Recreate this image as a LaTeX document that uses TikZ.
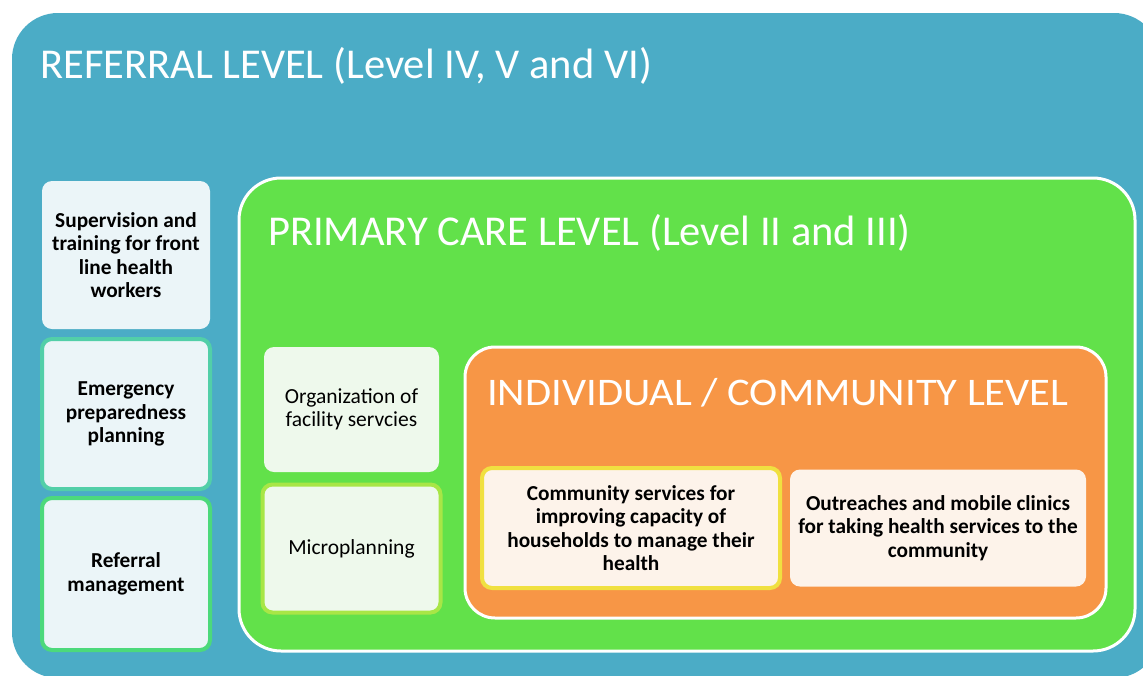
\documentclass[tikz,border=0pt]{standalone}
\usepackage{fontspec}
\setmainfont{Carlito}
\definecolor{bluebg}{HTML}{4BACC6}
\definecolor{greenbg}{HTML}{62E14A}
\definecolor{orangebg}{HTML}{F79646}
\definecolor{lblue}{HTML}{EBF5F8}
\definecolor{lgreen}{HTML}{EEF9EC}
\definecolor{lcream}{HTML}{FDF3EA}
\definecolor{tealborder}{HTML}{52CFA8}
\definecolor{greenborder}{HTML}{4CD97B}
\definecolor{limeborder}{HTML}{A8E646}
\definecolor{yellowborder}{HTML}{F0E040}
\tikzset{
  titletext/.style={anchor=base west, text=white, inner sep=0pt},
  itembox/.style={rounded corners=10pt, align=center, inner sep=0pt, font=\fontsize{21.3}{23.5}\selectfont\bfseries, text=black},
  itemplain/.style={itembox, font=\fontsize{21.5}{23.5}\selectfont},
}
\begin{document}
\begin{tikzpicture}[x=1pt,y=-1pt]
\useasboundingbox (0,0) rectangle (1143,675);
\clip (0,0) rectangle (1143,675);
\fill[white] (0,0) rectangle (1143,675);
% referral level
\fill[bluebg, rounded corners=46pt] (12,13) rectangle (1160,678);
\node[titletext, font=\fontsize{42.5}{50}\selectfont] (reftitle) at (40,78) {REFERRAL LEVEL (Level IV, V and VI)};
% primary care level
\draw[fill=greenbg, draw=white, line width=3pt, rounded corners=42pt] (239,178) rectangle (1135,651);
\node[titletext, font=\fontsize{42.5}{50}\selectfont] (pctitle) at (268,245) {PRIMARY CARE LEVEL (Level II and III)};
% individual / community level
\draw[fill=orangebg, draw=white, line width=3pt, rounded corners=30pt] (465,347) rectangle (1106,618);
\node[titletext, font=\fontsize{42.5}{50}\selectfont, yscale=0.92] (ictitle) at (487,405) {INDIVIDUAL / COMMUNITY LEVEL};
% left boxes
\node[itembox, fill=lblue, minimum width=168pt, minimum height=148pt] (sup) at (126,255) {Supervision and\\training for front\\line health\\workers};
\node[itembox, fill=lblue, draw=tealborder, line width=4pt, minimum width=168pt, minimum height=150pt] (emg) at (126,414) {Emergency\\preparedness\\planning};
\node[itembox, fill=lblue, draw=greenborder, line width=4pt, minimum width=168pt, minimum height=152pt] (refm) at (126,574) {Referral\\management};
% middle boxes
\node[itemplain, fill=lgreen, minimum width=175pt, minimum height=125pt] (org) at (351.5,409.5) {Organization of\\facility servcies};
\node[itemplain, fill=lgreen, draw=limeborder, line width=4pt, minimum width=178pt, minimum height=128pt] (micro) at (351.5,548.5) {Microplanning};
% inner boxes
\node[itembox, fill=lcream, draw=yellowborder, line width=4pt, minimum width=298pt, minimum height=120pt] (comm) at (631,528) {Community services for\\improving capacity of\\households to manage their\\health};
\node[itembox, fill=lcream, minimum width=296pt, minimum height=117pt] (out) at (938,528) {Outreaches and mobile clinics\\for taking health services to the\\community};
\end{tikzpicture}
\end{document}
